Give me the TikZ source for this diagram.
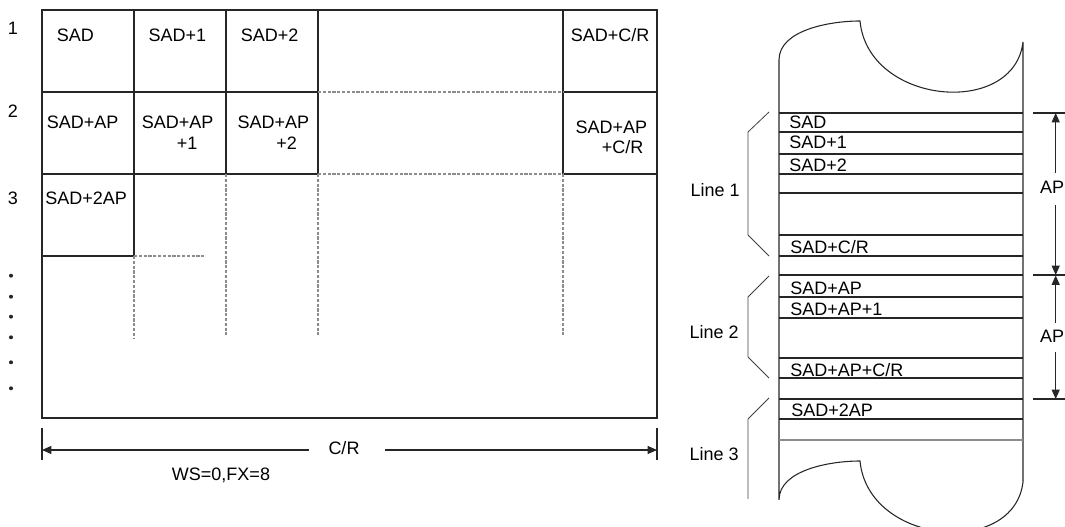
\documentclass[tikz,border=0pt]{standalone}
\usepackage{fontspec}
\setmainfont{Liberation Sans}
\usetikzlibrary{arrows.meta}
\begin{document}
\begin{tikzpicture}[x=0.75pt,y=-0.75pt,
  solidline/.style={draw=black!85, line width=0.8pt},
  dashline/.style={draw=black!45, line width=0.8pt, dash pattern=on 2.4pt off 1.2pt},
  thinline/.style={draw=black!75, line width=0.6pt},
  lbl/.style={font=\fontsize{13.5}{15}\selectfont, inner sep=0pt, anchor=base west},
  lble/.style={font=\fontsize{13.5}{15}\selectfont, inner sep=0pt, anchor=base east},
  arr/.style={solidline, -{Triangle[length=7pt,width=6pt]}},
  dot/.style={circle, fill=black!85, inner sep=0pt, minimum size=3pt},
]
\useasboundingbox (0,0) rectangle (1065,527);

% ---------------- left grid ----------------
\draw[solidline] (42,10) rectangle (657,418);
% solid cell borders
\draw[solidline] (134,10) -- (134,256);
\draw[solidline] (226,10) -- (226,174);
\draw[solidline] (318,10) -- (318,174);
\draw[solidline] (563,10) -- (563,174);
\draw[solidline] (42,92) -- (318,92);
\draw[solidline] (563,92) -- (657,92);
\draw[solidline] (42,174) -- (318,174);
\draw[solidline] (563,174) -- (657,174);
\draw[solidline] (42,256) -- (134,256);
% dashed continuations
\draw[dashline] (318,92) -- (563,92);
\draw[dashline] (318,174) -- (563,174);
\draw[dashline] (134,256) -- (205,256);
\draw[dashline] (134,256) -- (134,338);
\draw[dashline] (226,174) -- (226,335);
\draw[dashline] (318,174) -- (318,335);
\draw[dashline] (563,174) -- (563,335);

% row numbers and dots
\node[lbl, anchor=base] (r1) at (13,35) {1};
\node[lbl, anchor=base] (r2) at (13,118) {2};
\node[lbl, anchor=base] (r3) at (13,205) {3};
\foreach \y [count=\i] in {275.7,296.7,316.7,337.3,362.3,388.3}
  \node[dot] (d\i) at (11,\y) {};

% cell texts
\node[lbl] (c11) at (56.7,41.7) {SAD};
\node[lbl] (c12) at (148.3,41.7) {SAD+1};
\node[lbl] (c13) at (240.7,41.7) {SAD+2};
\node[lbl] (c1n) at (570.7,41.7) {SAD+C/R};
\node[lbl] (c21) at (46.7,128.3) {SAD+AP};
\node[lbl] (c22) at (141.7,128.3) {SAD+AP};
\node[lbl] (c22b) at (176.7,150) {+1};
\node[lbl] (c23) at (237.3,128.3) {SAD+AP};
\node[lbl] (c23b) at (276,150) {+2};
\node[lbl] (c2n) at (575.3,133.3) {SAD+AP};
\node[lbl] (c2nb) at (601.7,154) {+C/R};
\node[lbl] (c31) at (45,205) {SAD+2AP};

% C/R dimension
\coordinate (tlA) at (42,428);
\coordinate (tlB) at (42,460);
\coordinate (trA) at (657,428);
\coordinate (trB) at (657,460);
\draw[solidline] (tlA) -- (tlB);
\draw[solidline] (trA) -- (trB);
\coordinate (dimL) at (42,450);
\coordinate (dimR) at (657,450);
\node[font=\fontsize{13.5}{15}\selectfont, inner sep=0pt, anchor=base] (cr) at (344,454.5) {C/R};
\coordinate (crL) at (309,450);
\coordinate (crR) at (385,450);
\draw[arr] (crL) -- (dimL);
\draw[arr] (crR) -- (dimR);
\node[lbl] (ws) at (171.7,480.7) {WS=0,FX=8};

% ---------------- right scroll ----------------
\draw[solidline] (779,500) -- (779,60)
  .. controls (779,30) and (830,21) .. (860,21)
  .. controls (868,105) and (1014,118) .. (1023,42)
  -- (1023,482)
  .. controls (1014,558) and (868,545) .. (860,461)
  .. controls (830,461) and (779,470) .. (779,500);
\foreach \y in {113,132,154,174,193,235,256,275,297,318,358,378,399,419}
  \draw[solidline] (779,\y) -- (1023,\y);
\draw[draw=black!45, line width=0.8pt] (779,440) -- (1023,440);

% scroll texts
\node[lbl] (s1) at (789,128.3) {SAD};
\node[lbl] (s2) at (789,149) {SAD+1};
\node[lbl] (s3) at (789,171.5) {SAD+2};
\node[lbl] (s4) at (790,254) {SAD+C/R};
\node[lbl] (s5) at (790,295) {SAD+AP};
\node[lbl] (s6) at (790,315.5) {SAD+AP+1};
\node[lbl] (s7) at (790,376.5) {SAD+AP+C/R};
\node[lbl] (s8) at (791,416.7) {SAD+2AP};

% brackets
\draw[thinline] (769,112) -- (748,132) -- (748,235) -- (769,256);
\draw[thinline] (769,276) -- (748,297) -- (748,357) -- (769,378);
\draw[thinline] (769,398) -- (748,419) -- (748,499);
\node[lble] (ln1) at (740,196.7) {Line 1};
\node[lble] (ln2) at (739,338.3) {Line 2};
\node[lble] (ln3) at (739,460.7) {Line 3};

% AP dimensions
\draw[solidline] (1033,113) -- (1065,113);
\draw[solidline] (1033,275) -- (1065,275);
\draw[solidline] (1033,399) -- (1065,399);
\coordinate (ap1t) at (1055.7,113);
\coordinate (ap1b) at (1055.7,275);
\coordinate (ap2t) at (1055.7,275.5);
\coordinate (ap2b) at (1055.7,399);
\node[lble] (ap1) at (1064.5,193.3) {AP};
\node[lble] (ap2) at (1064.5,342.7) {AP};
\coordinate (ap1u) at (1055.7,173.3);
\coordinate (ap1d) at (1055.7,205);
\coordinate (ap2u) at (1055.7,322.7);
\coordinate (ap2d) at (1055.7,351.7);
\draw[arr] (ap1u) -- (ap1t);
\draw[arr] (ap1d) -- (ap1b);
\draw[arr] (ap2u) -- (ap2t);
\draw[arr] (ap2d) -- (ap2b);
\end{tikzpicture}
\end{document}
